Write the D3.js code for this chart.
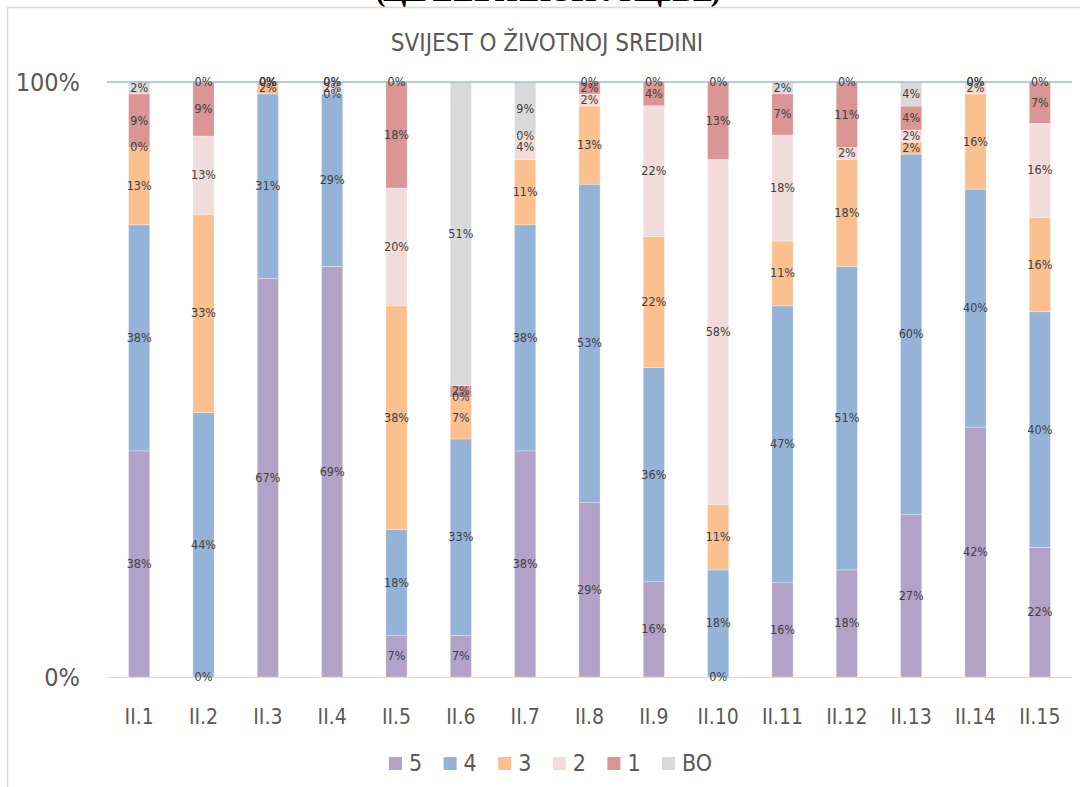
<!DOCTYPE html>
<html>
<head>
<meta charset="utf-8">
<script src="https://cdn.jsdelivr.net/npm/d3@7"></script>
<style>
  body { margin: 0; background: #fff; }
  svg { display: block; }
  .cond { font-family: "Liberation Sans Narrow", "DejaVu Sans Condensed", sans-serif; }
</style>
</head>
<body>
<svg class="chart" width="1080" height="787"></svg>
<script>
const categories = ['II.1', 'II.2', 'II.3', 'II.4', 'II.5', 'II.6', 'II.7', 'II.8',
  'II.9', 'II.10', 'II.11', 'II.12', 'II.13', 'II.14', 'II.15'];

// series from the bottom of each bar upwards
const keys = ['5', '4', '3', '2', '1', 'BO'];
const s5 = [38, 0, 67, 69, 7, 7, 38, 29, 16, 0, 16, 18, 27, 42, 22];
const s4 = [38, 44, 31, 29, 18, 33, 38, 53, 36, 18, 47, 51, 60, 40, 40];
const s3 = [13, 33, 2, 0, 38, 7, 11, 13, 22, 11, 11, 18, 2, 16, 16];
const s2 = [0, 13, 0, 2, 20, 0, 4, 2, 22, 58, 18, 2, 2, 2, 16];
const s1 = [9, 9, 0, 0, 18, 2, 0, 2, 4, 13, 7, 11, 4, 0, 7];
const sBO = [2, 0, 0, 0, 0, 51, 9, 0, 0, 0, 2, 0, 4, 0, 0];
const yTicks = [0, 1];

const colors = ['#b3a2c7', '#95b3d7', '#fac090', '#f2dcdb', '#d99694', '#d9d9d9'];

const table = categories.map((c, i) => ({
  cat: c, '5': s5[i], '4': s4[i], '3': s3[i], '2': s2[i], '1': s1[i], 'BO': sBO[i]
}));

const svg = d3.select('svg.chart');
const plot = { left: 107, right: 1072, top: 82, bottom: 677 };

const x = d3.scaleBand().domain(categories).range([plot.left, plot.right]).paddingInner(0.67).paddingOuter(0.335);
const y = d3.scaleLinear().domain([0, 1]).range([plot.bottom, plot.top]);
const color = d3.scaleOrdinal().domain(keys).range(colors);

const stacked = d3.stack().keys(keys).offset(d3.stackOffsetExpand)(table);

// cropped heading from the page above
svg.append('text')
  .attr('x', 548).attr('y', 1)
  .attr('text-anchor', 'middle')
  .style('font-family', '"Liberation Serif", serif')
  .style('font-weight', 'bold')
  .style('font-size', '30px')
  .attr('textLength', 345)
  .text('(ЦЕЛИНА ИНСТРУКЦИЈЕ)');

// chart frame
svg.append('line').attr('x1', 7).attr('x2', 1080).attr('y1', 7.5).attr('y2', 7.5)
  .attr('stroke', '#d9d9d9').attr('stroke-width', 1.5);
svg.append('line').attr('x1', 7.5).attr('x2', 7.5).attr('y1', 7).attr('y2', 787)
  .attr('stroke', '#d9d9d9').attr('stroke-width', 1.5);

svg.append('text').attr('class', 'cond')
  .attr('x', 547).attr('y', 51)
  .attr('text-anchor', 'middle')
  .style('font-size', '24px')
  .style('fill', '#595959')
  .text('SVIJEST O ŽIVOTNOJ SREDINI');

// y tick labels
svg.selectAll('text.ytick').data(yTicks).enter().append('text')
  .attr('class', 'ytick cond')
  .attr('x', 80).attr('y', d => y(d) + 9)
  .attr('text-anchor', 'end')
  .style('font-size', '25px')
  .style('fill', '#595959')
  .text(d3.format('.0%'));

// baseline
svg.append('line').attr('x1', plot.left).attr('x2', plot.right)
  .attr('y1', y(0) + 0.5).attr('y2', y(0) + 0.5)
  .attr('stroke', '#d9d9d9').attr('stroke-width', 1);

const layers = svg.selectAll('g.layer').data(stacked).enter().append('g')
  .attr('class', 'layer')
  .style('fill', d => color(d.key));

layers.selectAll('rect').data(d => d).enter().append('rect')
  .attr('x', d => x(d.data.cat))
  .attr('width', x.bandwidth())
  .attr('y', d => y(d[1]))
  .attr('height', d => y(d[0]) - y(d[1]))
  .attr('stroke', '#fff')
  .attr('stroke-opacity', 0.5)
  .attr('stroke-width', 0.6);

// top gridline
svg.append('line').attr('x1', plot.left).attr('x2', plot.right)
  .attr('y1', y(1)).attr('y2', y(1))
  .attr('stroke', '#9dbbe0').attr('stroke-width', 1.5);

// value labels
stacked.forEach(layer => {
  svg.append('g').selectAll('text').data(layer).enter().append('text')
    .attr('class', 'cond')
    .attr('x', d => x(d.data.cat) + x.bandwidth() / 2)
    .attr('y', d => y((d[0] + d[1]) / 2) + 4)
    .attr('text-anchor', 'middle')
    .style('font-size', '12.5px')
    .style('fill', '#404040')
    .text(d => d.data[layer.key] + '%');
});

// x labels
svg.selectAll('text.xlab').data(categories).enter().append('text')
  .attr('class', 'xlab cond')
  .attr('x', d => x(d) + x.bandwidth() / 2)
  .attr('y', 724)
  .attr('text-anchor', 'middle')
  .style('font-size', '21px')
  .style('fill', '#595959')
  .text(d => d);

// legend
const legend = svg.selectAll('g.leg').data(keys).enter().append('g')
  .attr('class', 'leg')
  .attr('transform', (d, i) => `translate(${389 + i * 54.6}, 757)`);
legend.append('rect').attr('width', 13).attr('height', 13).style('fill', d => color(d));
legend.append('text').attr('class', 'cond')
  .attr('x', 20).attr('y', 14)
  .style('font-size', '23px')
  .style('fill', '#595959')
  .text(d => d);
</script>
</body>
</html>
